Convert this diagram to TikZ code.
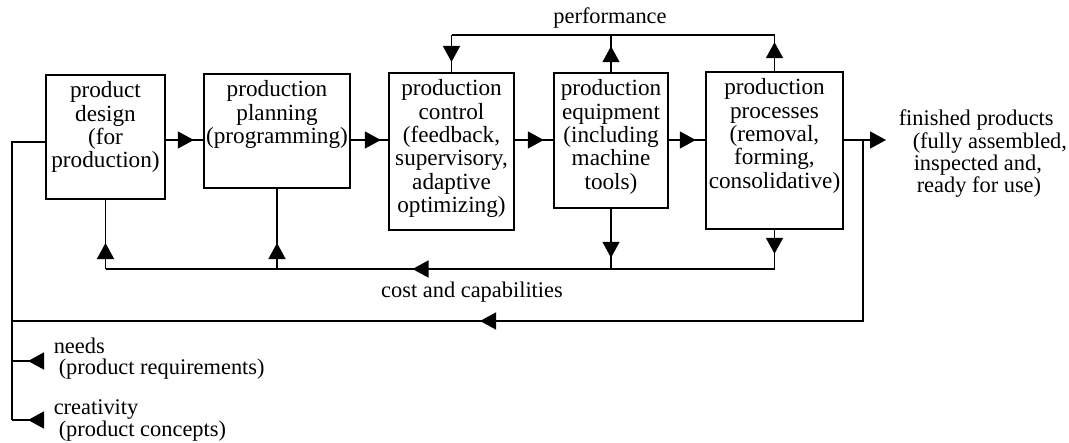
\documentclass[tikz,border=0pt]{standalone}
\usepackage{fontspec}
\setmainfont{Liberation Serif}
\usetikzlibrary{arrows.meta,decorations.markings}
\newcommand\boxtxt[3]{\parbox[c][#2][t]{#1}{\fontsize{11.6pt}{11.65pt}\selectfont\vspace*{3.3pt}\centering\strut #3\par}}
\begin{document}
\begin{tikzpicture}[x=0.5pt, y=-0.5pt,
  font=\fontsize{11.2pt}{11.65pt}\selectfont,
  line width=0.75pt,
  box/.style={draw, line width=0.8pt, inner sep=0pt},
  tipat/.style={postaction={decorate,decoration={markings,
      mark=at position #1 with {\arrow{Triangle[length=8pt,width=8.5pt]}}}}},
  endtip/.style={-{Triangle[length=8pt,width=8.5pt]}},
  lbl/.style={inner sep=0pt, align=left, anchor=north west}]
\path[fill=white] (0,0) rectangle (1069,443);
% boxes
\node[box] (b1) at (105.5,137) {\boxtxt{59.5pt}{62pt}{product\\design\\(for\\production)}};
\node[box] (b2) at (277,131) {\boxtxt{73pt}{57pt}{production\\planning\\(programming)}};
\node[box] (b3) at (451.5,151.5) {\boxtxt{62.5pt}{78.5pt}{production\\control\\(feedback,\\supervisory,\\adaptive\\optimizing)}};
\node[box] (b4) at (611,140.5) {\boxtxt{57pt}{67.5pt}{production\\equipment\\(including\\machine\\tools)}};
\node[box] (b5) at (774.5,150.5) {\boxtxt{68.5pt}{78.5pt}{production\\processes\\(removal,\\forming,\\consolidative)}};
% labels
\node (perf) at (610,18) {performance};
\node (cost) at (472,292) {cost and capabilities};
\node[lbl, font=\fontsize{11.2pt}{9pt}\selectfont] (fin) at (898,109)
  {finished products\\\hspace*{7pt}(fully assembled,\\\hspace*{7.5pt}inspected and,\\\hspace*{9pt}ready for use)};
\node[lbl, font=\fontsize{11.2pt}{10.5pt}\selectfont] (needs) at (53,337)
  {needs\\\hspace*{2.5pt}(product requirements)};
\node[lbl, font=\fontsize{11.2pt}{10pt}\selectfont] (crea) at (53,399)
  {creativity\\\hspace*{2.5pt}(product concepts)};
% helper coordinates
\coordinate (py) at (0,35);
\coordinate (cy) at (0,269);
\coordinate (fy) at (0,140);
\coordinate (fb) at (0,321);
\coordinate (lx) at (12,0);
\coordinate (in) at (12,142);
\coordinate (fj) at (863,140);
\coordinate (fo) at (886,140);
\coordinate (na) at (42,361);
\coordinate (ca) at (42,420);
% main flow
\draw[tipat=14pt] (b1.east |- fy) -- (b2.west |- fy);
\draw[tipat=15pt] (b2.east |- fy) -- (b3.west |- fy);
\draw[tipat=14.5pt] (b3.east |- fy) -- (b4.west |- fy);
\draw[tipat=13.5pt] (b4.east |- fy) -- (b5.west |- fy);
\draw[endtip] (b5.east |- fy) -- (fo);
% performance
\draw (b3.north |- py) -- (b5.north |- py);
\draw[tipat=13.5pt] (b3.north |- py) -- (b3.north);
\draw[tipat=13pt] (b4.north) -- (b4.north |- py);
\draw[tipat=14.5pt] (b5.north) -- (b5.north |- py);
% cost and capabilities
\draw[tipat=24.5pt] (b4.south) -- (b4.south |- cy);
\draw[tipat=12pt] (b5.south) -- (b5.south |- cy);
\draw[tipat=181pt] (b5.south |- cy) -- (b1.south |- cy);
\draw[tipat=13pt] (b1.south |- cy) -- (b1.south);
\draw[tipat=13pt] (b2.south |- cy) -- (b2.south);
% finished products feedback
\draw[tipat=282pt] (fj) -- (fj |- fb) -- (lx |- fb);
% left input line
\draw (lx |- ca) -- (in) -- (in -| b1.west);
\draw[tipat=7pt] (na) -- (na -| lx);
\draw[tipat=7pt] (ca) -- (ca -| lx);
\end{tikzpicture}
\end{document}
